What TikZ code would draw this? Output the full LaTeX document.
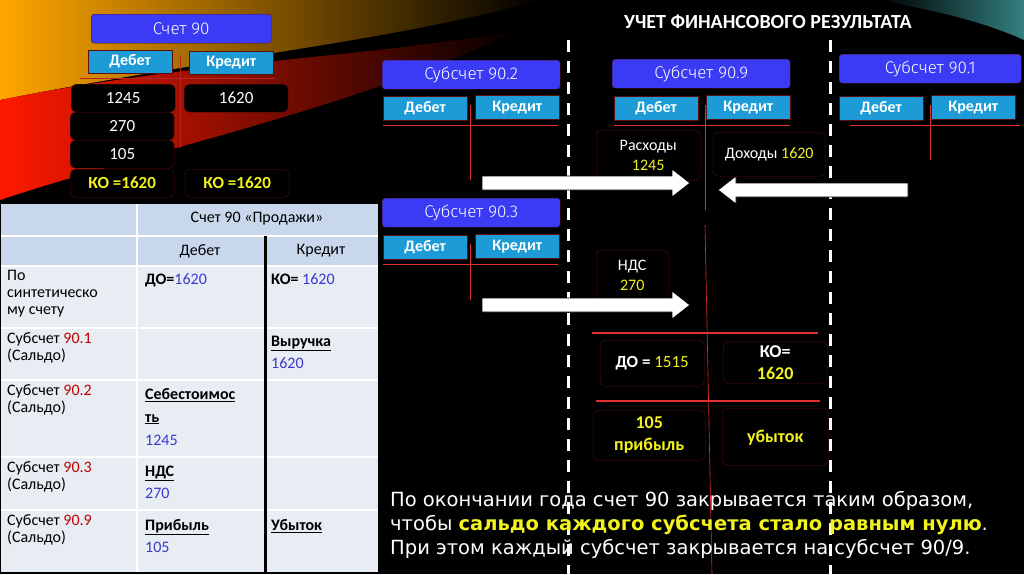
\documentclass[tikz,border=0pt]{standalone}
\usepackage{fontspec}
\setmainfont{Carlito}
\newfontfamily\gothic{Fira Sans Light}
\newfontfamily\arial{DejaVu Sans}
\usetikzlibrary{arrows.meta}
\definecolor{sblue}{HTML}{3B3BF5}
\definecolor{cyanb}{HTML}{1C9BD6}
\definecolor{nred}{HTML}{E23030}
\definecolor{dred}{HTML}{5A0E0E}
\definecolor{hdr}{HTML}{C9D7EC}
\definecolor{cellc}{HTML}{E8ECF3}
\definecolor{numblue}{HTML}{3A3ACF}
\definecolor{numred}{HTML}{C00000}
\definecolor{yel}{HTML}{F2F21E}
\begin{document}
\begin{tikzpicture}[x=1pt,y=-1pt,
 sub/.style={draw=dred,fill=sblue,rounded corners=3pt,text=white,font=\gothic\fontsize{17}{17}\selectfont,minimum height=29pt,anchor=north west,inner sep=0pt},
 dk/.style={draw=dred,fill=cyanb,text=white,font=\bfseries\fontsize{16}{16}\selectfont,minimum height=24pt,anchor=north west,inner sep=0pt},
 cell/.style={draw=dred,rounded corners=5pt,fill=black,text=white,anchor=north west,inner sep=0pt,font=\fontsize{17}{17}\selectfont},
 tl/.style={draw=nred,line width=0.6pt},
 tb/.style={anchor=north west,align=left,text=black,font=\fontsize{16}{17}\selectfont,inner sep=0pt},
 bigarr/.style={draw=black,fill=white,line width=0.8pt}]
\fill[black] (0,0) rectangle (1024,574);
\useasboundingbox (0,0) rectangle (1024,574);
% background swooshes
\shade[left color=orange!70!yellow,right color=black] (0,0) -- (540,0) .. controls (400,40) and (200,60) .. (0,100) -- cycle;
\shade[left color=red!80!orange,right color=black] (0,100) .. controls (200,60) and (350,60) .. (520,30) .. controls (350,110) and (150,150) .. (0,200) -- cycle;
\shade[left color=black,right color=teal!60!gray] (880,0) -- (1024,0) -- (1024,40) .. controls (980,20) and (930,10) .. (880,0);
\node[font=\bfseries\fontsize{20}{20}\selectfont,text=white] (title) at (768,22) {УЧЕТ ФИНАНСОВОГО РЕЗУЛЬТАТА};
% Schet 90
\node[sub,minimum width=180pt] (s90) at (91,14) {Счет 90};
\node[dk,minimum width=84pt,minimum height=23pt] (d90) at (88,50) {Дебет};
\node[dk,minimum width=84pt,minimum height=23pt] (k90) at (189,51) {Кредит};
\coordinate (h1) at (80,78); \coordinate (h2) at (275,78);
\coordinate (v1) at (180,55); \coordinate (v2) at (180,148);
\draw[tl,draw=nred!80!black] (h1)--(h2); \draw[tl,draw=nred!80!black] (v1)--(v2);
\node[cell,minimum width=104pt,minimum height=28pt] (c1) at (71,84) {1245};
\node[cell,minimum width=104pt,minimum height=28pt] (c2) at (184,84) {1620};
\node[cell,minimum width=104pt,minimum height=28pt] (c3) at (70,112) {270};
\node[cell,minimum width=104pt,minimum height=28pt] (c4) at (70,140) {105};
\node[cell,minimum width=104pt,minimum height=28pt,text=yel,font=\bfseries\fontsize{17}{17}\selectfont] (c5) at (70,169) {КО =1620};
\node[cell,minimum width=104pt,minimum height=28pt,text=yel,font=\bfseries\fontsize{17}{17}\selectfont] (c6) at (185,169) {КО =1620};
% table
\fill[cellc] (0,203) rectangle (378,572);
\fill[hdr] (0,203) rectangle (378,266);
\draw[white,line width=1.2pt] (0,236)--(378,236) (0,266)--(378,266) (0,328)--(378,328) (0,380)--(378,380) (0,457)--(378,457) (0,510)--(378,510) (137,203)--(137,572);
\draw[black,line width=3pt] (265,236)--(265,572);
\draw[black,line width=0.8pt] (0,203) rectangle (378,572);
\node[font=\fontsize{16}{16}\selectfont] (th) at (257,219) {Счет 90 «Продажи»};
\node[font=\fontsize{16}{16}\selectfont] (thd) at (200,251) {Дебет};
\node[font=\fontsize{16}{16}\selectfont] (thk) at (321,251) {Кредит};
\node[tb] (r1) at (7,270) {По\\синтетическо\\му счету};
\node[tb] (r2) at (7,332) {Субсчет \textcolor{numred}{90.1}\\(Сальдо)};
\node[tb] (r3) at (7,384) {Субсчет \textcolor{numred}{90.2}\\(Сальдо)};
\node[tb] (r4) at (7,461) {Субсчет \textcolor{numred}{90.3}\\(Сальдо)};
\node[tb] (r5) at (7,514) {Субсчет \textcolor{numred}{90.9}\\(Сальдо)};
\node[tb,font=\bfseries\fontsize{16}{20}\selectfont] (a1) at (145,273) {ДО=\textcolor{numblue}{\mdseries 1620}};
\node[tb,font=\bfseries\fontsize{16}{20}\selectfont] (a2) at (271,273) {КО= \textcolor{numblue}{\mdseries 1620}};
\node[tb,font=\bfseries\fontsize{16}{22}\selectfont] (a3) at (271,336) {\underline{Выручка}\\\textcolor{numblue}{\mdseries 1620}};
\node[tb,font=\bfseries\fontsize{16}{23}\selectfont] (a4) at (145,388) {\underline{Себестоимос}\\\underline{ть}\\\textcolor{numblue}{\mdseries 1245}};
\node[tb,font=\bfseries\fontsize{16}{22}\selectfont] (a5) at (145,466) {\underline{НДС}\\\textcolor{numblue}{\mdseries 270}};
\node[tb,font=\bfseries\fontsize{16}{22}\selectfont] (a6) at (145,519) {\underline{Прибыль}\\\textcolor{numblue}{\mdseries 105}};
\node[tb,font=\bfseries\fontsize{16}{22}\selectfont] (a7) at (271,519) {\underline{Убыток}};
% dashed dividers
\coordinate (dl1) at (568,40); \coordinate (dl2) at (568,574);
\coordinate (dr1) at (830,40); \coordinate (dr2) at (830,574);
\draw[white,line width=3pt,dash pattern=on 12pt off 9pt] (dl1)--(dl2) (dr1)--(dr2);
% sub-accounts
\node[sub,minimum width=178pt] (s902) at (382,60) {Субсчет 90.2};
\node[sub,minimum width=178pt] (s909) at (612,59) {Субсчет 90.9};
\node[sub,minimum width=182pt] (s901) at (839,54) {Субсчет 90.1};
\node[sub,minimum width=178pt] (s903) at (382,198) {Субсчет 90.3};
\foreach \n/\x/\y in {a/383/96, b/614/96, c/839/96, d/383/235}{
 \node[dk,minimum width=84pt] (d\n) at (\x,\y) {Дебет};
 \node[dk,minimum width=84pt] (k\n) at (\x+92,\y-1) {Кредит};
}
\draw[tl] (383,125)--(558,125) (470,105)--(470,180);
\draw[tl] (614,125)--(790,125) (705,105)--(705,210);
\draw[tl] (850,125)--(1020,125) (930,105)--(930,160);
\draw[tl] (383,264)--(558,264) (470,244)--(470,300);
\draw[tl] (705,225)--(712,574);
\draw[nred,line width=2.5pt] (592,333)--(818,333) (596,401)--(820,401);
% cells right
\node[cell,minimum width=104pt,minimum height=50pt,align=center,font=\fontsize{16}{20}\selectfont] (rash) at (596,130) {Расходы\\\textcolor{yel}{1245}};
\node[cell,minimum width=112pt,minimum height=44pt,font=\fontsize{16}{16}\selectfont] (doh) at (713,132) {Доходы \textcolor{yel}{1620}};
\node[cell,minimum width=72pt,minimum height=50pt,align=center,font=\fontsize{16}{20}\selectfont] (nds) at (596,250) {НДС\\\textcolor{yel}{270}};
\node[cell,minimum width=104pt,minimum height=46pt,font=\bfseries\fontsize{17}{17}\selectfont] (do) at (600,340) {ДО = \textcolor{yel}{\mdseries 1515}};
\node[cell,minimum width=104pt,minimum height=42pt,align=center,font=\bfseries\fontsize{18}{22}\selectfont] (ko) at (723,341) {КО=\\\textcolor{yel}{1620}};
\node[cell,minimum width=112pt,minimum height=50pt,align=center,text=yel,font=\bfseries\fontsize{18}{22}\selectfont] (pr) at (593,410) {105\\прибыль};
\node[cell,minimum width=106pt,minimum height=57pt,text=yel,font=\bfseries\fontsize{18}{18}\selectfont] (ub) at (722,408) {\raisebox{-14pt}{убыток}};
% big arrows
\draw[bigarr] (482,176)--(672,176)--(672,169)--(690,183)--(672,197)--(672,190)--(482,190)--cycle;
\draw[bigarr] (908,183)--(736,183)--(736,176)--(718,190)--(736,204)--(736,197)--(908,197)--cycle;
\draw[bigarr] (482,298)--(672,298)--(672,291)--(690,305)--(672,319)--(672,312)--(482,312)--cycle;
% bottom text
\node[anchor=north west,align=left,text=white,font=\arial\fontsize{19.5}{24}\selectfont,inner sep=0pt] (txt) at (390,491) {По окончании года счет 90 закрывается таким образом,\\чтобы \textcolor{yel}{\bfseries сальдо каждого субсчета стало равным нулю}.\\При этом каждый субсчет закрывается на субсчет 90/9.};
\end{tikzpicture}
\end{document}
